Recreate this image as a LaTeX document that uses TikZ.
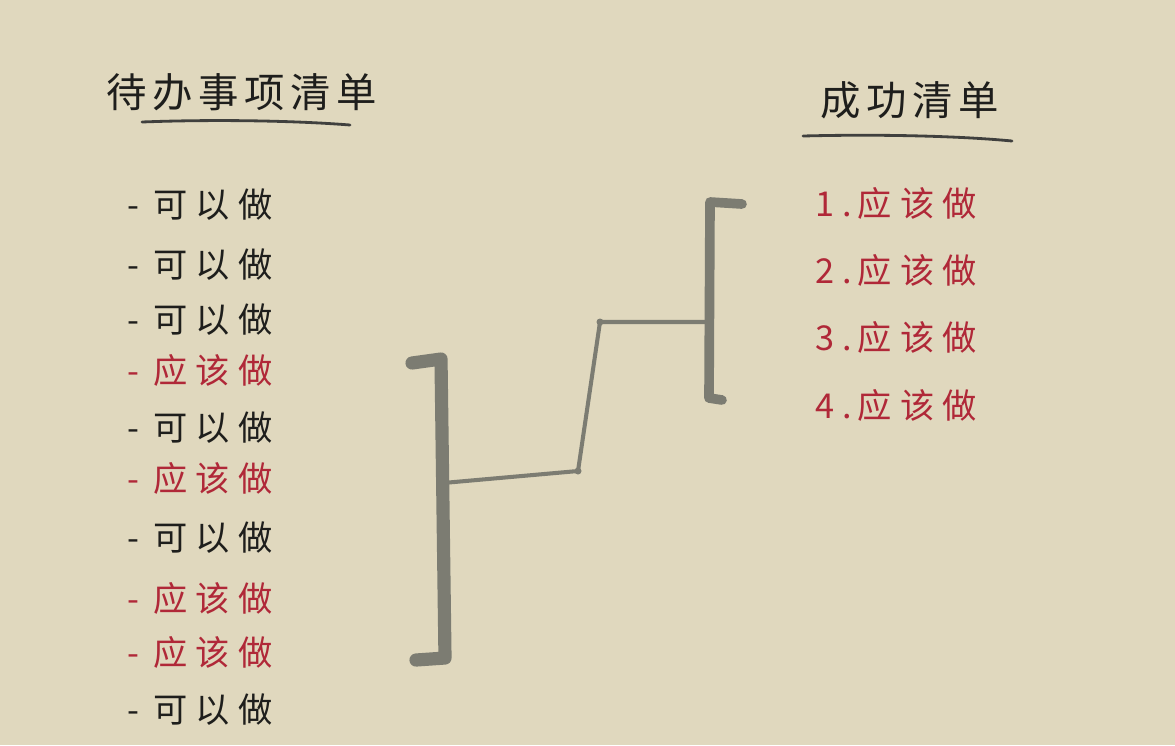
\documentclass[tikz,border=0pt]{standalone}
\usepackage{fontspec}
\usetikzlibrary{calc}
\newfontfamily\cjk[LetterSpace=14]{Noto Sans CJK SC}
\newfontfamily\cjkitem[LetterSpace=24]{Noto Sans CJK SC}
\definecolor{paper}{HTML}{E0D8BE}
\definecolor{ink}{HTML}{1E1E1C}
\definecolor{redink}{HTML}{B02838}
\definecolor{pencil}{HTML}{7C7C72}

\begin{document}
\begin{tikzpicture}[x=0.02cm,y=-0.02cm,
title/.style={font=\cjk\fontsize{23}{26}\selectfont,text=ink,anchor=west,inner sep=0pt},
item/.style={font=\cjkitem\fontsize{19.5}{22}\selectfont,anchor=west,inner sep=0pt},
underline/.style={draw=ink!85,line width=1.6pt,line cap=round},
bracket/.style={draw=pencil,line width=7.5pt,line cap=round,line join=round},
link/.style={draw=pencil,line width=2.3pt,line cap=round,line join=round}]
\fill[paper] (0,0) rectangle (1175,745);
\useasboundingbox (0,0) rectangle (1175,745);
% titles
\node[title] (todo) at (106,92) {待办事项清单};
\draw[underline] (142,122) .. controls (220,119) and (300,121) .. (350,125);
\node[title] (done) at (820,100) {成功清单};
\draw[underline] (803,136) .. controls (880,134) and (960,136) .. (1012,141);
% to-do list
\foreach \y/\col/\txt [count=\i] in {205/ink/可以做,265/ink/可以做,320/ink/可以做,370/redink/应该做,428/ink/可以做,478/redink/应该做,538/ink/可以做,598/redink/应该做,652/redink/应该做,710/ink/可以做}
  \node[item,text=\col] (item\i) at (127,\y) {-\hspace{8pt}\txt};
% success list
\foreach \y [count=\i] in {203,270,337,405}
  \node[item,text=redink] (goal\i) at (815,\y) {\i.\,应该做};
% brackets
\coordinate (lb) at (443,483);
\coordinate (rb) at (708,322);
\draw[bracket] (412,363) -- (441,359) -- (445,658) -- (416,660);
\draw[bracket,line width=5.5pt] (742,204) -- (710,202) -- (709,398) -- (722,400);
% connector
\coordinate (k1) at (578,471);
\coordinate (k2) at (600,322);
\draw[link] (lb) -- (k1) -- (k2) -- (rb);
\fill[pencil] (k1) circle (3.5) (k2) circle (3.5);
\end{tikzpicture}
\end{document}
